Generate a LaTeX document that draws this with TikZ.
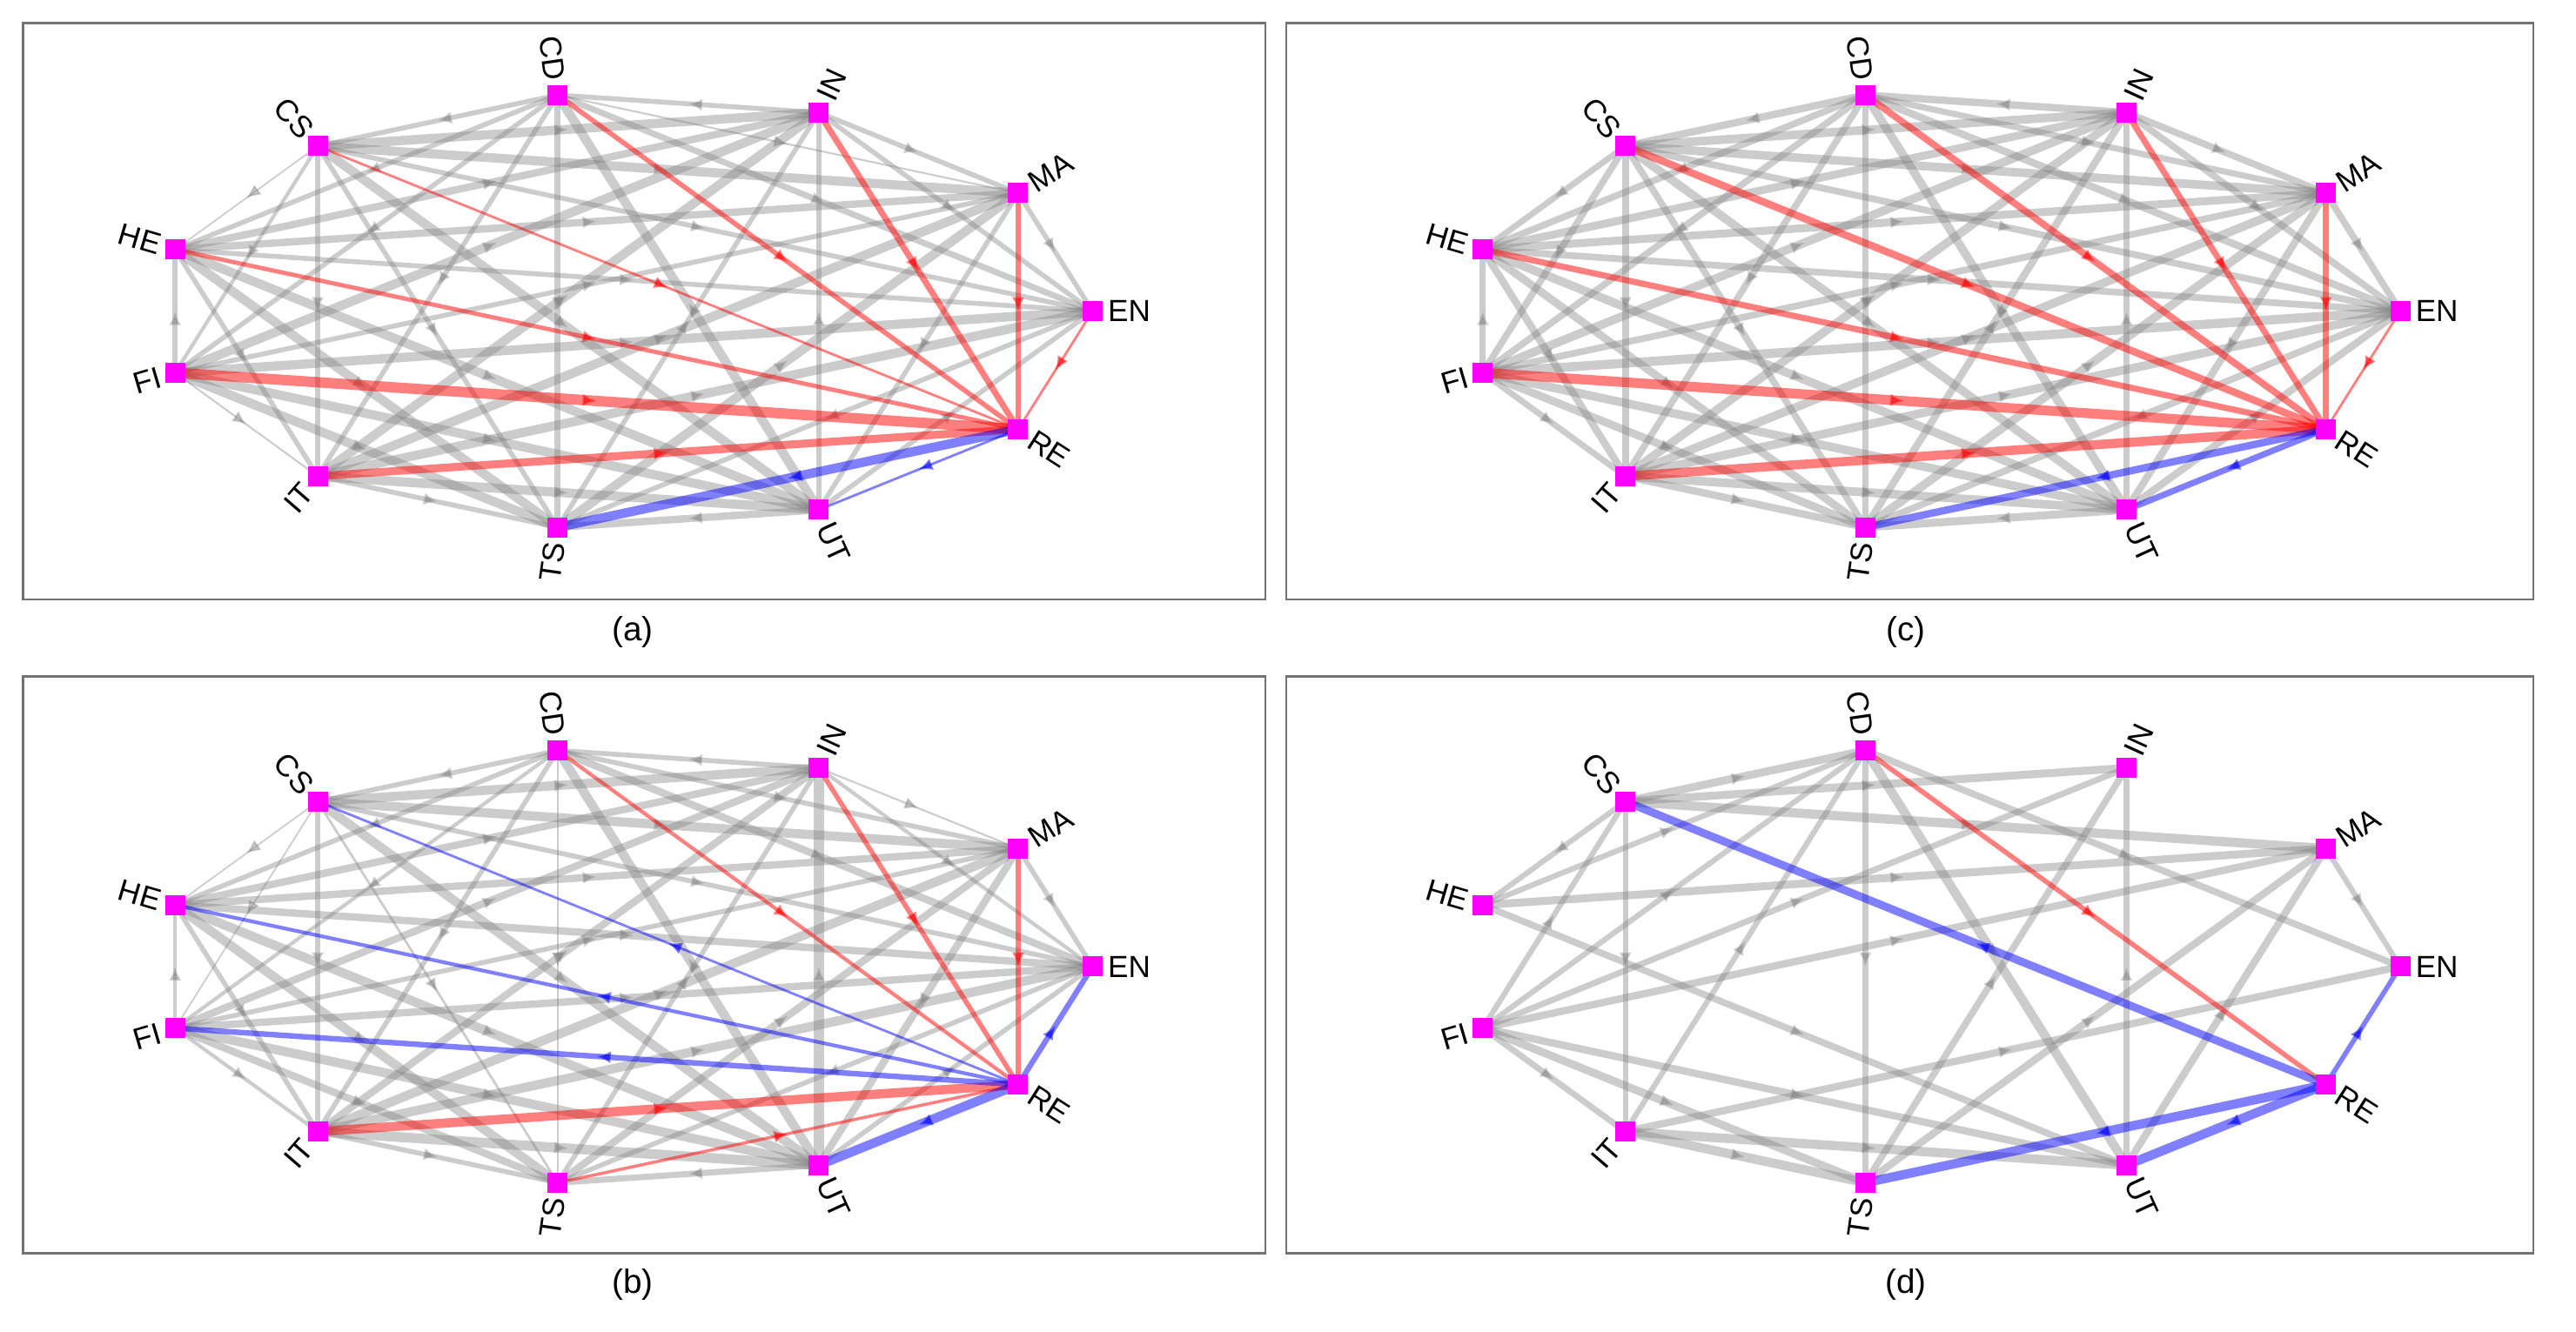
\documentclass[tikz,border=0pt]{standalone}
\usepackage{fontspec}
\setmainfont{Liberation Sans}
\usetikzlibrary{calc,arrows.meta,decorations.markings}
\definecolor{vtxmag}{RGB}{255,0,255}

\begin{document}
\begin{tikzpicture}[
  vtx/.style={fill=vtxmag, minimum size=0.23cm, inner sep=0pt},
  lbl/.style={font=\fontsize{10}{12}\selectfont, inner sep=0pt},
  captext/.style={font=\fontsize{11}{13}\selectfont},
  panel/.style={draw=black!55, line width=0.8pt},
  midarrow/.style={postaction={decorate,decoration={markings,
      mark=at position 0.5 with {\arrow{Latex[length=1.6mm,width=1.4mm]}}}}},
  gedge/.style={draw=gray, opacity=0.4, line width=#1pt, midarrow},
  redge/.style={draw=red, opacity=0.5, line width=#1pt, midarrow},
  bedge/.style={draw=blue, opacity=0.5, line width=#1pt, midarrow},
]
\useasboundingbox (0,0) rectangle (29.60,15.31);

%--- frames and captions ------------------------------------------------
\draw[panel] (0.264,8.42) rectangle (14.54,15.046);
\draw[panel] (0.264,0.906) rectangle (14.54,7.532);
\draw[panel] (14.78,8.42) rectangle (29.11,15.046);
\draw[panel] (14.78,0.906) rectangle (29.11,7.532);
\node[captext] (cap-a) at (7.27,8.04) {(a)};
\node[captext] (cap-b) at (7.27,0.547) {(b)};
\node[captext] (cap-c) at (21.90,8.04) {(c)};
\node[captext] (cap-d) at (21.90,0.547) {(d)};

%--- sector positions on the ellipse -------------------------------------
\foreach \p/\cx/\cy in {a/7.174/11.733, b/7.174/4.20, c/22.20/11.733, d/22.20/4.20}
  \foreach \nm/\ang in {EN/0, MA/32.727, IN/65.455, CD/98.182, CS/130.909,
      HE/163.636, FI/196.364, IT/229.091, TS/261.818, UT/294.545, RE/327.273}
    \coordinate (\p-\nm) at ([shift={(\cx,\cy)}]\ang:5.38 and 2.51);

%--- gray links in (a), (b), (c) ------------------------------------------
\foreach \u/\v/\wa/\wb/\wc in {
  MA/EN/1.6/1.6/2.2, IN/MA/1.6/0.6/2.2, IN/CD/1.6/1.6/2.4, CD/CS/1.6/1.6/2.4,
  CS/HE/0.5/0.5/2.0, FI/HE/1.6/1.2/2.0, FI/IT/0.6/1.2/2.0, IT/TS/1.6/1.6/2.4,
  UT/TS/2.4/2.0/2.6,
  IN/EN/1.6/1.2/2.2, CD/MA/0.6/1.6/2.0, CS/IN/3.0/3.0/2.8, CD/HE/1.6/1.6/2.2,
  CS/FI/1.2/0.5/2.2, HE/IT/1.6/1.6/2.4, FI/TS/3.0/2.4/2.6, IT/UT/3.0/3.2/2.8,
  UT/EN/1.6/1.6/2.4,
  CD/EN/2.0/2.4/2.4, CS/MA/3.0/3.0/2.8, HE/IN/2.4/2.4/2.6, CD/FI/1.6/1.2/2.2,
  CS/IT/1.6/1.6/2.2, HE/TS/3.0/3.0/2.6, FI/UT/3.0/3.0/2.8, EN/TS/1.6/1.6/2.2,
  MA/UT/1.6/2.4/2.4,
  CS/EN/1.6/1.6/2.2, HE/MA/2.4/2.4/2.6, FI/IN/3.0/2.4/2.8, CD/IT/1.6/1.6/2.2,
  CS/TS/1.6/0.8/2.2, HE/UT/3.0/3.0/2.8, IT/EN/3.0/3.0/2.8, TS/MA/3.0/2.4/2.8,
  UT/IN/1.6/3.2/2.2,
  HE/EN/1.6/2.4/2.2, FI/MA/1.6/1.6/2.2, IT/IN/3.0/2.4/2.8, CD/TS/2.0/0.5/2.2,
  CS/UT/3.0/3.0/2.8, FI/EN/3.0/2.4/3.0, IT/MA/3.0/3.0/2.8, TS/IN/1.6/1.6/2.4,
  UT/CD/3.0/3.0/2.8}{
  \draw[gedge=\wa] (a-\u) -- (a-\v);
  \draw[gedge=\wb] (b-\u) -- (b-\v);
  \draw[gedge=\wc] (c-\u) -- (c-\v);
}

%--- gray links in (d) ----------------------------------------------------
\foreach \u/\v/\w in {CS/CD/2.6, CS/IN/2.6, CS/MA/3.0, CS/HE/1.8, FI/CS/1.8,
  CS/IT/1.6, HE/CD/1.8, FI/CD/1.8, IT/CD/1.8, CD/TS/2.0, CD/UT/3.0, CD/EN/2.2,
  HE/MA/2.6, HE/UT/2.2, FI/IN/2.0, FI/MA/2.4, FI/IT/2.0, FI/TS/2.6, FI/UT/2.4,
  IT/EN/2.4, IT/UT/3.0, IT/TS/3.0, TS/IN/2.2, TS/MA/2.4, UT/IN/1.8, UT/MA/2.4,
  MA/EN/1.8}
  \draw[gedge=\w] (d-\u) -- (d-\v);

%--- links into RE (red) and out of RE (blue) ------------------------------
\foreach \u/\w in {EN/0.8, MA/1.6, IN/2.0, CD/1.6, CS/0.8, HE/1.4, FI/3.4, IT/2.6}
  \draw[redge=\w] (a-\u) -- (a-RE);
\foreach \v/\w in {UT/0.8, TS/3.0}
  \draw[bedge=\w] (a-RE) -- (a-\v);

\foreach \u/\w in {CD/1.2, IN/1.6, MA/1.6, IT/3.0, TS/1.0}
  \draw[redge=\w] (b-\u) -- (b-RE);
\foreach \v/\w in {CS/0.8, HE/1.2, FI/1.8, UT/3.0, EN/1.8}
  \draw[bedge=\w] (b-RE) -- (b-\v);

\foreach \u/\w in {EN/0.8, MA/2.0, IN/2.0, CD/2.2, CS/2.4, HE/2.0, FI/3.2, IT/3.0}
  \draw[redge=\w] (c-\u) -- (c-RE);
\foreach \v/\w in {UT/2.0, TS/2.4}
  \draw[bedge=\w] (c-RE) -- (c-\v);

\draw[redge=1.6] (d-CD) -- (d-RE);
\foreach \v/\w in {CS/2.6, EN/1.6, TS/3.0, UT/3.0}
  \draw[bedge=\w] (d-RE) -- (d-\v);

%--- sector boxes and names ---------------------------------------------
\foreach \p in {a,b,c,d}{
  \foreach \nm/\ang in {EN/0, MA/32.727, IN/65.455, UT/294.545, RE/327.273}{
    \node[vtx] (\p-\nm-sq) at (\p-\nm) {};
    \node[lbl, rotate=\ang, anchor=west] (\p-\nm-lb)
      at ($(\p-\nm)+(\ang:0.17)$) {\nm};
  }
  \foreach \nm/\ang in {CD/98.182, CS/130.909, HE/163.636, FI/196.364,
      IT/229.091, TS/261.818}{
    \node[vtx] (\p-\nm-sq) at (\p-\nm) {};
    \node[lbl, rotate=\ang+180, anchor=east] (\p-\nm-lb)
      at ($(\p-\nm)+(\ang:0.17)$) {\nm};
  }
}

\end{tikzpicture}
\end{document}
